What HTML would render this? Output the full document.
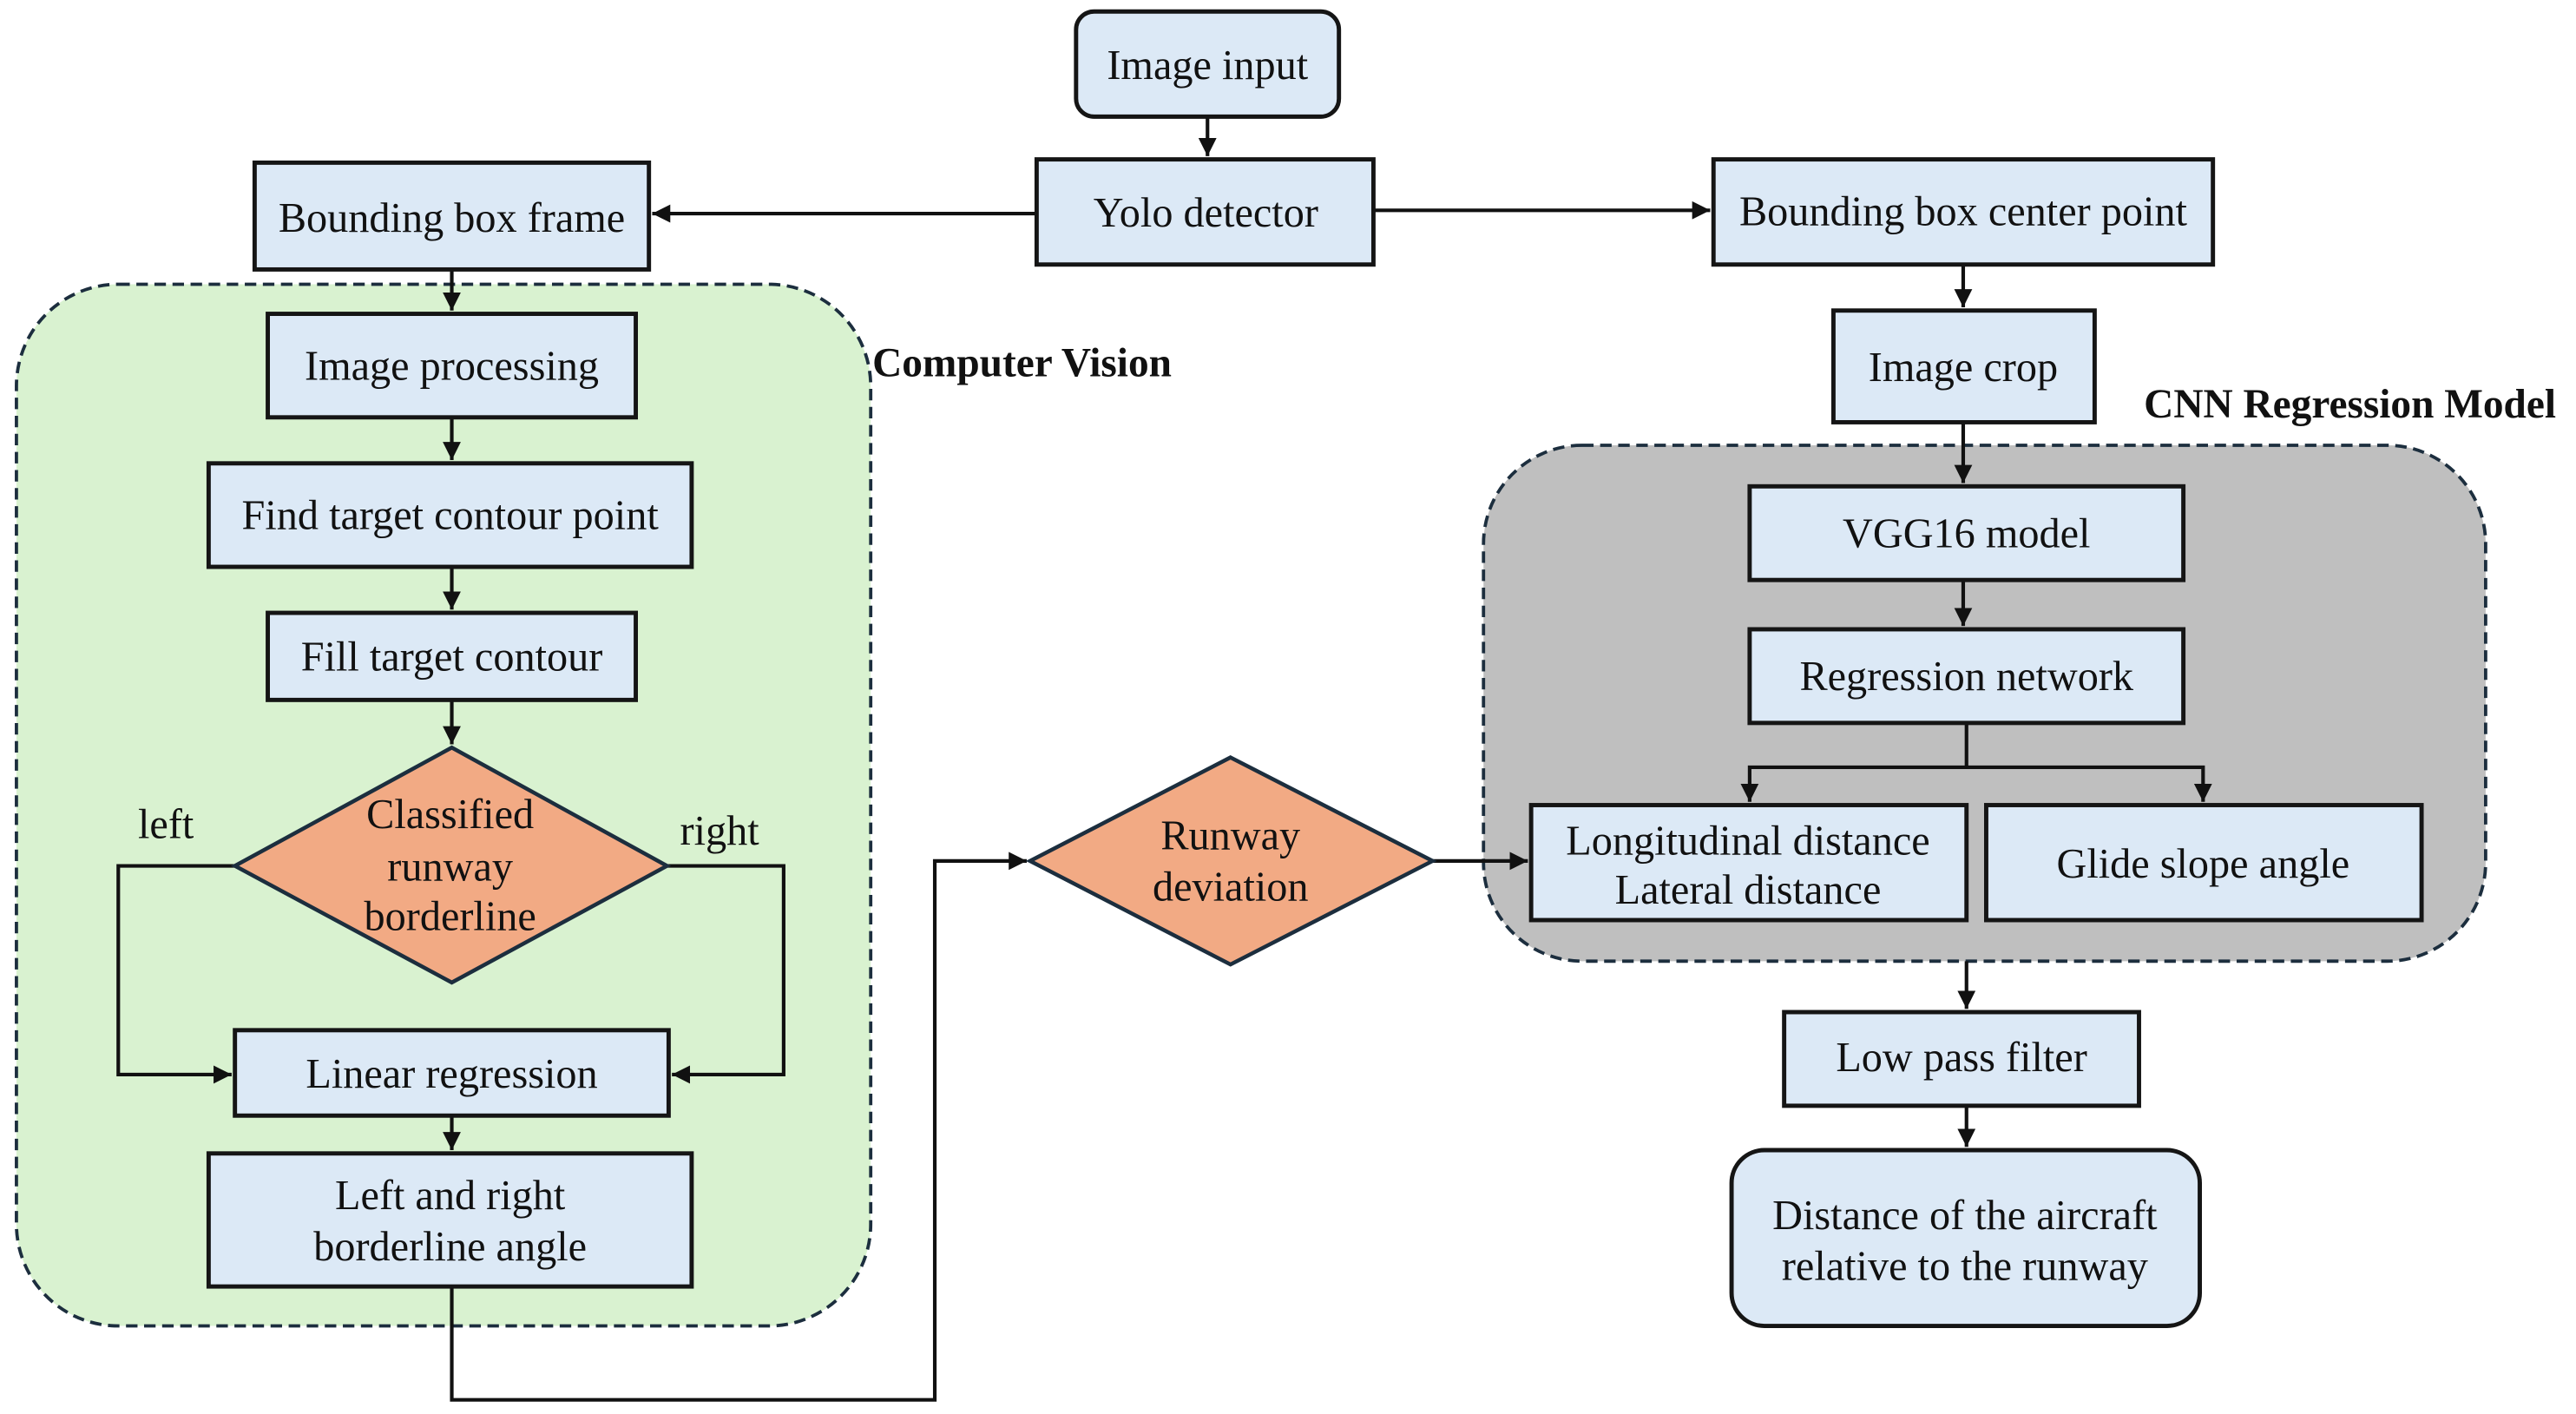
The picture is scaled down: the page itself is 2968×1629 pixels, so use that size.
<!DOCTYPE html>
<html><head><meta charset="utf-8"><style>
html,body{margin:0;padding:0;background:#fff;}
svg{display:block;}
svg text{font-family:"Liberation Serif","DejaVu Serif",serif;font-size:25.5px;fill:#111;text-anchor:middle;}
svg text.b{font-weight:bold;font-size:25px;text-anchor:start;}
.box{fill:#dce9f6;stroke:#151515;stroke-width:2.6;}
.dia{fill:#f2aa84;stroke:#1c2e3e;stroke-width:2.4;}
.ln{fill:none;stroke:#111;stroke-width:2.2;}
</style></head><body>
<svg width="2968" height="1629" viewBox="0 0 1568 860.6" preserveAspectRatio="none" xmlns="http://www.w3.org/2000/svg" font-family="Liberation Serif, serif">
<defs><marker id="a" viewBox="0 0 10 10" refX="10" refY="5" markerWidth="5" markerHeight="5" orient="auto" markerUnits="strokeWidth"><path d="M0,0L10,5L0,10z" fill="#111"/></marker></defs>
<rect x="10" y="173" width="520" height="634" rx="62" fill="#d9f2d0" stroke="#1c2e3e" stroke-width="2" stroke-dasharray="7,4"/>
<rect x="903" y="271" width="610" height="314" rx="60" fill="#bfbfbf" stroke="#1c2e3e" stroke-width="2" stroke-dasharray="7,4"/>
<text class="b" x="531" y="229">Computer Vision</text>
<text class="b" x="1305" y="254">CNN Regression Model</text>
<path class="ln" d="M735,71V95" marker-end="url(#a)"/>
<path class="ln" d="M631,130H397" marker-end="url(#a)"/>
<path class="ln" d="M836,128H1041" marker-end="url(#a)"/>
<path class="ln" d="M1195,161V187" marker-end="url(#a)"/>
<path class="ln" d="M1195,257V294" marker-end="url(#a)"/>
<path class="ln" d="M1195,353V381" marker-end="url(#a)"/>
<path class="ln" d="M1197,440V467H1065V488" marker-end="url(#a)"/>
<path class="ln" d="M1197,467H1341V488" marker-end="url(#a)"/>
<path class="ln" d="M1197,585V614" marker-end="url(#a)"/>
<path class="ln" d="M1197,673V698" marker-end="url(#a)"/>
<path class="ln" d="M872,524H930" marker-end="url(#a)"/>
<path class="ln" d="M275,783V852H569V524H625" marker-end="url(#a)"/>
<path class="ln" d="M275,164V189" marker-end="url(#a)"/>
<path class="ln" d="M275,254V280" marker-end="url(#a)"/>
<path class="ln" d="M275,345V371" marker-end="url(#a)"/>
<path class="ln" d="M275,426V453" marker-end="url(#a)"/>
<path class="ln" d="M143,527H72V654H141" marker-end="url(#a)"/>
<path class="ln" d="M406,527H477V654H409" marker-end="url(#a)"/>
<path class="ln" d="M275,679V700" marker-end="url(#a)"/>
<rect class="box" x="655" y="7" width="160" height="64" rx="11"/><text x="735" y="48">Image input</text>
<rect class="box" x="631" y="97" width="205" height="64"/><text x="734" y="138">Yolo detector</text>
<rect class="box" x="155" y="99" width="240" height="65"/><text x="275" y="141">Bounding box frame</text>
<rect class="box" x="1043" y="97" width="304" height="64"/><text x="1195" y="137">Bounding box center point</text>
<rect class="box" x="1116" y="189" width="159" height="68"/><text x="1195" y="232">Image crop</text>
<rect class="box" x="1065" y="296" width="264" height="57"/><text x="1197" y="333">VGG16 model</text>
<rect class="box" x="1065" y="383" width="264" height="57"/><text x="1197" y="420">Regression  network</text>
<rect class="box" x="932" y="490" width="265" height="70"/><text x="1064" y="520">Longitudinal  distance</text><text x="1064" y="550">Lateral  distance</text>
<rect class="box" x="1209" y="490" width="265" height="70"/><text x="1341" y="534">Glide  slope angle</text>
<rect class="box" x="1086" y="616" width="216" height="57"/><text x="1194" y="652">Low pass filter</text>
<rect class="box" x="1054" y="700" width="285" height="107" rx="20"/><text x="1196" y="748">Distance of the aircraft</text><text x="1196" y="779">relative to the runway</text>
<polygon class="dia" points="749,461 872,524 749,587 627,524"/><text x="749" y="517">Runway</text><text x="749" y="548">deviation</text>
<rect class="box" x="163" y="191" width="224" height="63"/><text x="275" y="231">Image processing</text>
<rect class="box" x="127" y="282" width="294" height="63"/><text x="274" y="322">Find target contour point</text>
<rect class="box" x="163" y="373" width="224" height="53"/><text x="275" y="408">Fill target contour</text>
<polygon class="dia" points="275,455 406,527 275,598 143,527"/><text x="274" y="504">Classified</text><text x="274" y="536">runway</text><text x="274" y="566">borderline</text>
<text x="101" y="510">left</text><text x="438" y="514">right</text>
<rect class="box" x="143" y="627" width="264" height="52"/><text x="275" y="662">Linear regression</text>
<rect class="box" x="127" y="702" width="294" height="81"/><text x="274" y="736">Left  and  right</text><text x="274" y="767">borderline angle</text>
</svg>
</body></html>
